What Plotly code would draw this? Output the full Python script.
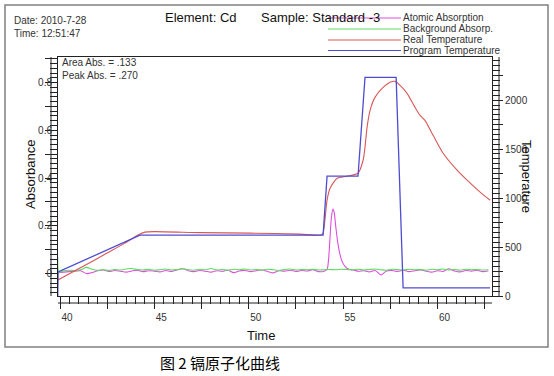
import plotly.graph_objects as go

# ---------------- data ----------------
# Program temperature (time s, temperature C)
prog_time = [39.88, 39.90, 44.24, 53.94, 54.15, 55.79, 56.16, 57.81, 58.18, 62.79]
prog_temp = [0, 245, 622, 622, 1223, 1223, 2232, 2232, 82, 82]

# Real temperature
real_time = [39.89, 41.06, 42.49, 43.44, 44.13, 44.50, 45.03, 47.42, 50.07, 52.72, 53.83,
             53.94, 54.15, 54.31, 54.68, 55.21, 55.79, 56.06, 56.16, 56.27, 56.43, 56.69,
             57.12, 57.49, 57.75, 58.02, 58.39, 58.81, 59.08, 59.34, 59.77, 60.30, 61.04,
             61.57, 62.26, 62.79]
real_temp = [163, 285, 438, 540, 622, 652, 657, 647, 642, 632, 622,
             642, 978, 1100, 1202, 1223, 1253, 1386, 1518, 1722, 1895, 2028,
             2130, 2181, 2191, 2150, 2069, 1926, 1844, 1793, 1640, 1457, 1284,
             1182, 1060, 978]

# Background absorption
bg_time = [39.88, 39.95, 40.2, 40.5, 40.8, 41.1, 41.4, 41.7, 42.0, 42.3, 42.6, 42.9, 43.2, 43.5,
           43.8, 44.1, 44.4, 44.7, 45.0, 45.3, 45.6, 45.9, 46.2, 46.5, 46.8, 47.1, 47.4,
           47.7, 48.0, 48.3, 48.6, 48.9, 49.2, 49.5, 49.8, 50.1, 50.4, 50.7, 51.0, 51.3,
           51.6, 51.9, 52.2, 52.5, 52.8, 53.1, 53.4, 53.7, 54.0, 54.3, 54.6, 54.9, 55.2,
           55.5, 55.8, 56.1, 56.4, 56.7, 57.0, 57.3, 57.6, 57.9, 58.2, 58.5, 58.8, 59.1,
           59.4, 59.7, 60.0, 60.3, 60.6, 60.9, 61.2, 61.5, 61.8, 62.1, 62.4, 62.7]
bg_abs = [0.068, 0.006, 0.012, 0.014, 0.013, 0.016, 0.026, 0.018, 0.014, 0.016, 0.013, 0.017,
          0.015, 0.019, 0.021, 0.017, 0.015, 0.018, 0.014, 0.016, 0.019, 0.015, 0.017, 0.020,
          0.016, 0.014, 0.018, 0.016, 0.021, 0.015, 0.017, 0.014, 0.018, 0.016, 0.019, 0.015,
          0.017, 0.014, 0.018, 0.016, 0.013, 0.017, 0.019, 0.015, 0.017, 0.016, 0.018, 0.015,
          0.016, 0.017, 0.016, 0.018, 0.017, 0.016, 0.018, 0.015, 0.017, 0.019, 0.016, 0.014,
          0.018, 0.017, 0.015, 0.018, 0.016, 0.017, 0.014, 0.018, 0.016, 0.019, 0.015, 0.017,
          0.014, 0.018, 0.016, 0.017, 0.015, 0.016]

# Atomic absorption
aa_time = [39.9, 40.2, 40.5, 40.8, 41.1, 41.4, 41.7, 42.0, 42.3, 42.6, 42.9, 43.2, 43.5,
           43.8, 44.1, 44.4, 44.7, 45.0, 45.3, 45.6, 45.9, 46.2, 46.5, 46.8, 47.1, 47.4,
           47.7, 48.0, 48.3, 48.6, 48.9, 49.2, 49.5, 49.8, 50.1, 50.4, 50.7, 51.0, 51.3,
           51.6, 51.9, 52.2, 52.5, 52.8, 53.1, 53.4, 53.7, 54.0,
           54.15, 54.22, 54.30, 54.38, 54.46, 54.53, 54.60, 54.70, 54.82, 54.95, 55.10,
           55.25, 55.40, 55.6, 55.8, 56.1, 56.4, 56.7, 57.0, 57.3, 57.6, 57.9, 58.2, 58.5,
           58.8, 59.1, 59.4, 59.7, 60.0, 60.3, 60.6, 60.9, 61.2, 61.5, 61.8, 62.1, 62.4, 62.7]
aa_abs = [0.004, 0.006, 0.008, 0.010, 0.012, 0.000, 0.004, 0.012, 0.015, 0.009, 0.013, 0.010,
          0.006, 0.011, 0.014, 0.008, 0.012, 0.010, 0.007, 0.013, 0.009, 0.015, 0.020, 0.012,
          0.008, 0.013, 0.010, 0.006, 0.012, 0.009, 0.014, 0.004, 0.011, 0.013, 0.008, 0.012,
          0.015, 0.009, 0.003, 0.012, 0.010, 0.014, 0.009, 0.013, 0.011, 0.016, 0.008, 0.010,
          0.018, 0.050, 0.140, 0.235, 0.270, 0.255, 0.205, 0.140, 0.085, 0.050, 0.030,
          0.020, 0.016, 0.014, 0.010, 0.012, 0.007, 0.013, -0.006, 0.011, 0.013, 0.009, 0.014,
          0.008, 0.012, 0.015, 0.010, 0.006, 0.012, 0.009, 0.020, 0.011, 0.007, 0.013, 0.010,
          0.014, 0.008, 0.012]

series_names = ["Atomic Absorption", "Background Absorp.", "Real Temperature", "Program Temperature"]
series_colors = ["#dd4fdd", "#5cdc5c", "#d95757", "#4c4cd2"]

x_tickvals = [40, 42.5, 45, 47.5, 50, 52.5, 55, 57.5, 60, 62.5]
x_ticktext = ["40", "", "45", "", "50", "", "55", "", "60", ""]
y_tickvals = [0, 0.1, 0.2, 0.3, 0.4, 0.5, 0.6, 0.7, 0.8, 0.9]
y_ticktext = ["0", "", "0.2", "", "0.4", "", "0.6", "", "0.8", ""]
t_tickvals = [0, 250, 500, 750, 1000, 1250, 1500, 1750, 2000, 2250]
t_ticktext = ["0", "", "500", "", "1000", "", "1500", "", "2000", ""]

# ---------------- layout geometry ----------------
W, H = 554, 376
L, R, T, B = 58, 62, 57, 80
PW, PH = W - L - R, H - T - B

def px(x):
    return (x - L) / PW

def py(y):
    return (H - B - y) / PH

FONT = "Liberation Sans, Arial, sans-serif"
AX = "#222222"

fig = go.Figure()
fig.add_trace(go.Scatter(x=aa_time, y=aa_abs, mode="lines", name=series_names[0],
                         line=dict(color=series_colors[0], width=1.1, shape="spline", smoothing=0.8)))
fig.add_trace(go.Scatter(x=bg_time, y=bg_abs, mode="lines", name=series_names[1],
                         line=dict(color=series_colors[1], width=1.1, shape="spline", smoothing=0.8)))
fig.add_trace(go.Scatter(x=real_time, y=real_temp, mode="lines", name=series_names[2], yaxis="y2",
                         line=dict(color=series_colors[2], width=1.1, shape="spline", smoothing=0.6)))
fig.add_trace(go.Scatter(x=prog_time, y=prog_temp, mode="lines", name=series_names[3], yaxis="y2",
                         line=dict(color=series_colors[3], width=1.3)))

tickfont = dict(family=FONT, size=10, color="#333333")

fig.update_layout(
    width=W, height=H, margin=dict(l=L, r=R, t=T, b=B),
    paper_bgcolor="white", plot_bgcolor="white", showlegend=False,
    xaxis=dict(range=[39.894, 62.89], tickmode="array", tickvals=x_tickvals, ticktext=x_ticktext,
               ticks="outside", ticklen=12, tickcolor=AX, tickwidth=1,
               minor=dict(dtick=0.5, ticks="outside", ticklen=7, tickcolor=AX, tickwidth=1),
               showline=True, linecolor=AX, linewidth=1, mirror=True,
               showgrid=False, zeroline=False, tickfont=tickfont, ticklabelshift=7),
    yaxis=dict(range=[-0.094, 0.907], tickmode="array", tickvals=y_tickvals, ticktext=y_ticktext,
               ticks="outside", ticklen=12, tickcolor=AX, tickwidth=1,
               minor=dict(dtick=0.02, ticks="outside", ticklen=7, tickcolor=AX, tickwidth=1),
               showline=True, linecolor=AX, linewidth=1,
               showgrid=False, zeroline=False, tickfont=tickfont, ticklabelstandoff=-9),
    yaxis2=dict(range=[0, 2440], overlaying="y", side="right", tickmode="array",
                tickvals=t_tickvals, ticktext=t_ticktext,
                ticks="outside", ticklen=10, tickcolor=AX, tickwidth=1,
                minor=dict(dtick=50, ticks="outside", ticklen=7, tickcolor=AX, tickwidth=1),
                showline=True, linecolor=AX, linewidth=1,
                showgrid=False, zeroline=False, tickfont=tickfont),
)

shapes = []
# ladder outer lines
shapes.append(dict(type="line", xref="paper", yref="paper", xsizemode="pixel", xanchor=0,
                   x0=-7, x1=-7, y0=0, y1=1, line=dict(color=AX, width=1)))
shapes.append(dict(type="line", xref="paper", yref="paper", xsizemode="pixel", xanchor=1,
                   x0=7, x1=7, y0=0, y1=1, line=dict(color=AX, width=1)))
shapes.append(dict(type="line", xref="paper", yref="paper", ysizemode="pixel", yanchor=0,
                   y0=-7, y1=-7, x0=0, x1=1, line=dict(color=AX, width=1)))
# outer frame
shapes.append(dict(type="rect", xref="paper", yref="paper", xsizemode="pixel", ysizemode="pixel",
                   xanchor=0, yanchor=0, x0=5 - L, x1=548 - L, y0=-(347 - (H - B)), y1=(H - B) - 5,
                   line=dict(color="#808080", width=1.5), fillcolor="rgba(0,0,0,0)"))
# legend lines
leg_y = [18, 29, 40, 50.5]
for i in range(4):
    shapes.append(dict(type="line", xref="paper", yref="paper", xsizemode="pixel", ysizemode="pixel",
                       xanchor=0, yanchor=1, x0=328 - L, x1=401 - L,
                       y0=T - leg_y[i], y1=T - leg_y[i],
                       line=dict(color=series_colors[i], width=1.2)))

ann = []
def text(x, y, s, size=10, color="#333333", xanchor="left", angle=0, family=FONT):
    ann.append(dict(x=px(x), y=py(y), xref="paper", yref="paper", text=s, showarrow=False,
                    xanchor=xanchor, yanchor="middle", textangle=angle,
                    font=dict(family=family, size=size, color=color)))

text(12, 20, "Date: 2010-7-28", 10)
text(12, 34, "Time: 12:51:47", 10)
text(163, 18, "Element: Cd", 13, "#111111")
text(259, 18, "Sample: Standard -3", 13, "#111111")
for i in range(4):
    text(401, leg_y[i] - 0.5, series_names[i], 10)
text(60, 62, "Area Abs. = .133", 10)
text(60, 75, "Peak Abs. = .270", 10)
text(30, 175, "Absorbance", 13, "#111111", xanchor="center", angle=-90)
text(527, 176, "Temperature", 13, "#111111", xanchor="center", angle=90)
text(261, 335, "Time", 13, "#111111", xanchor="center")
text(220, 362, "图 2 镉原子化曲线", 15, "#000000", xanchor="center",
     family="Noto Sans CJK SC, sans-serif")

fig.update_layout(shapes=shapes, annotations=ann)
fig.write_html("out.html")
